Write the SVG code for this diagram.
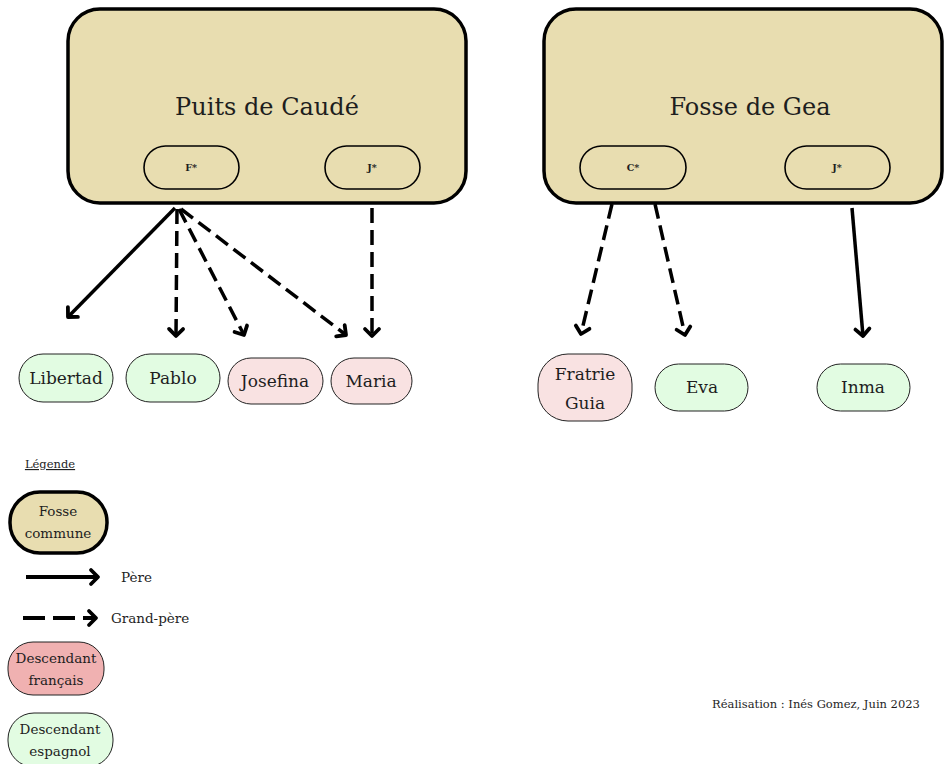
<svg xmlns="http://www.w3.org/2000/svg" width="944" height="764" viewBox="0 0 944 764">
<style>
text{font-family:"DejaVu Serif","Liberation Serif",serif;fill:#1e1e1e;text-anchor:middle}
.fosse{fill:#e8ddb0;stroke:#000;stroke-width:3.5}
.pill{fill:none;stroke:#000;stroke-width:1.6}
.fr{fill:#f9e2e2;stroke:#222;stroke-width:1}
.es{fill:#e2fce2;stroke:#222;stroke-width:1}
.title{font-size:24px}
.small{font-size:9.5px;font-weight:bold}
.name{font-size:17px}
.leg{font-size:13.5px}
.pere{fill:none;stroke:#000;stroke-width:3.5;marker-end:url(#arr)}
.gp{fill:none;stroke:#000;stroke-width:3.5;stroke-dasharray:15 7;marker-end:url(#arr)}
</style>
<defs>
<marker id="arr" viewBox="-12 -11 15 22" refX="0" refY="0" markerWidth="15" markerHeight="22" markerUnits="userSpaceOnUse" orient="auto">
<path d="M-7,-7 L0,0 L-7,7" fill="none" stroke="#000" stroke-width="3.8" stroke-dasharray="none" stroke-linecap="round" stroke-linejoin="round"/>
</marker>
</defs>
<g id="puits">
<rect class="fosse" x="68" y="9" width="398" height="194" rx="32"/>
<text class="title" x="267" y="115">Puits de Caudé</text>
<rect class="pill" x="144" y="146" width="95" height="43" rx="21.5"/>
<text class="small" x="191" y="171">F*</text>
<rect class="pill" x="325" y="146" width="95" height="43" rx="21.5"/>
<text class="small" x="372" y="171">J*</text>
</g>
<g id="gea">
<rect class="fosse" x="544" y="9" width="398" height="194" rx="32"/>
<text class="title" x="750" y="115">Fosse de Gea</text>
<rect class="pill" x="580" y="146" width="106" height="43" rx="21.5"/>
<text class="small" x="633" y="171">C*</text>
<rect class="pill" x="785" y="146" width="105" height="43" rx="21.5"/>
<text class="small" x="837" y="171">J*</text>
</g>
<g id="connectors">
<line class="pere" x1="175" y1="208" x2="68" y2="317"/>
<line class="gp" x1="177" y1="209" x2="176" y2="336"/>
<line class="gp" x1="179" y1="209" x2="244" y2="335"/>
<line class="gp" x1="181" y1="209" x2="346" y2="335"/>
<line class="gp" x1="372" y1="208" x2="372" y2="336"/>
<line class="gp" x1="612" y1="204" x2="581" y2="334"/>
<line class="gp" x1="655" y1="204" x2="685" y2="335"/>
<line class="pere" x1="852" y1="208" x2="863" y2="336"/>
</g>
<g id="libertad"><rect class="es" x="19" y="354" width="94" height="48" rx="24"/><text class="name" x="66" y="384">Libertad</text></g>
<g id="pablo"><rect class="es" x="126" y="354" width="94" height="48" rx="24"/><text class="name" x="173" y="384">Pablo</text></g>
<g id="josefina"><rect class="fr" x="228" y="358" width="95" height="46" rx="23"/><text class="name" x="275" y="387">Josefina</text></g>
<g id="maria"><rect class="fr" x="331" y="358" width="81" height="46" rx="23"/><text class="name" x="371" y="387">Maria</text></g>
<g id="fratrie"><rect class="fr" x="538" y="354" width="94" height="67" rx="30"/><text class="name" x="585" y="380">Fratrie</text><text class="name" x="585" y="409">Guia</text></g>
<g id="eva"><rect class="es" x="655" y="364" width="93" height="47" rx="23.5"/><text class="name" x="702" y="393">Eva</text></g>
<g id="inma"><rect class="es" x="817" y="364" width="93" height="47" rx="23.5"/><text class="name" x="863" y="393">Inma</text></g>
<g id="legende">
<text x="50" y="468" style="font-size:11.5px;text-decoration:underline">Légende</text>
<rect class="fosse" x="10" y="492" width="97" height="61" rx="30"/>
<text class="leg" x="58" y="516">Fosse</text>
<text class="leg" x="58" y="538">commune</text>
<line class="pere" x1="26" y1="577" x2="98" y2="577" style="stroke-width:4"/>
<text class="leg" x="121" y="582" style="text-anchor:start">Père</text>
<line class="gp" x1="23" y1="618" x2="96" y2="618" style="stroke-dasharray:22 8;stroke-width:4"/>
<text class="leg" x="111" y="623" style="text-anchor:start">Grand-père</text>
<rect x="8" y="642" width="96" height="53" rx="25" fill="#f0b1b1" stroke="#222" stroke-width="1"/>
<text class="leg" x="56" y="663">Descendant</text>
<text class="leg" x="56" y="685">français</text>
<rect class="es" x="8" y="713" width="105" height="54" rx="26"/>
<text class="leg" x="60" y="734">Descendant</text>
<text class="leg" x="60" y="756">espagnol</text>
</g>
<text x="816" y="708" style="font-size:11.5px">Réalisation : Inés Gomez, Juin 2023</text>
</svg>
